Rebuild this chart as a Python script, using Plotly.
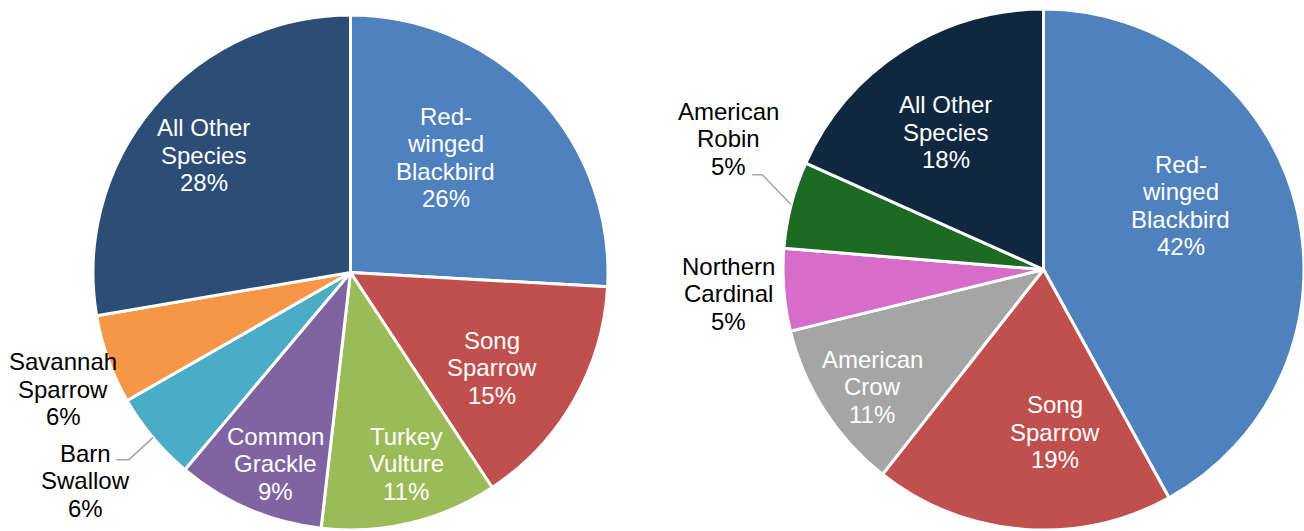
import math
import plotly.graph_objects as go

W, H = 1304, 531

# ---- data ----
left_labels = ["Red-winged Blackbird", "Song Sparrow", "Turkey Vulture", "Common Grackle",
               "Barn Swallow", "Savannah Sparrow", "All Other Species"]
left_values = [25.9, 14.85, 11.1, 9.3, 5.6, 5.6, 27.7]
left_lines = [["Red-", "winged", "Blackbird"], ["Song", "Sparrow"], ["Turkey", "Vulture"],
              ["Common", "Grackle"], ["Barn", "Swallow"], ["Savannah", "Sparrow"],
              ["All Other", "Species"]]
left_colors = ["#4F81BD", "#C0504D", "#9BBB59", "#8064A2", "#4BACC6", "#F79646", "#2C4D75"]

right_labels = ["Red-winged Blackbird", "Song Sparrow", "American Crow", "Northern Cardinal",
                "American Robin", "All Other Species"]
right_values = [42.0, 18.6, 10.6, 5.1, 5.4, 18.3]
right_lines = [["Red-", "winged", "Blackbird"], ["Song", "Sparrow"], ["American", "Crow"],
               ["Northern", "Cardinal"], ["American", "Robin"], ["All Other", "Species"]]
right_colors = ["#4F81BD", "#C0504D", "#A5A5A5", "#D66DC8", "#1C6B23", "#10283F"]

FONT = "Liberation Sans, Arial, sans-serif"
FS = 24
LINE_H = 27.5

# pie boxes in pixels (left, top, size)
left_box = (93, 15, 515)
right_box = (783, 9, 521)

# label placement styles
# inside: (angle offset from slice middle in degrees, radial fraction)
# outside: ("out", label offset px from rim point, leader elbow offset, leader end offset)
left_style = [(-7.0, 0.58), (4.0, 0.663), (-2.8, 0.774), (-2.0, 0.798),
              ("out", (-67, 43), (-24, 22), (-37, 22)),
              ("out", (-45, 30), None, None),
              (-1.5, 0.729)]
right_style = [(-10.6, 0.582), (-8.7, 0.627), (-1.6, 0.797),
               ("out", (-55, 4), None, None),
               ("out", (-63, -66), (-29, -30), (-39, -30)),
               (-2.5, 0.646)]


def dom(box):
    x0, y0, s = box
    s_eff = min(s, W - x0)
    return dict(x=[x0 / W, (x0 + s_eff) / W], y=[1 - (y0 + s) / H, 1 - y0 / H])


def geom(box):
    x0, y0, s = box
    s_eff = min(s, W - x0)
    r = min(s_eff, s) / 2
    return x0 + s_eff / 2, y0 + s / 2, r


def polar(box, ang, frac=1.0):
    cx, cy, r = geom(box)
    a = math.radians(ang)
    return cx + frac * r * math.sin(a), cy - frac * r * math.cos(a)


def px(x, y):
    return x / W, 1 - y / H


fig = go.Figure()
annotations, shapes = [], []


def add_pie(labels, values, lines, colors, styles, box):
    fig.add_trace(go.Pie(
        labels=labels, values=values, textinfo="none",
        sort=False, direction="clockwise", rotation=0,
        marker=dict(colors=colors, line=dict(color="white", width=3)),
        domain=dom(box), showlegend=False, hoverinfo="label+percent",
    ))
    tot = sum(values)
    cum = 0
    for lab, v, ln, st in zip(labels, values, lines, styles):
        mid = (cum + v / 2) / tot * 360
        cum += v
        pct = f"{int(v / tot * 100 + 0.5)}%"
        all_lines = ln + [pct]
        if st[0] == "out":
            _, off, elbow, end = st
            rx, ry = polar(box, mid)
            cx, cy = rx + off[0], ry + off[1]
            color = "black"
            if elbow is not None:
                p0 = px(rx, ry)
                p1 = px(rx + elbow[0], ry + elbow[1])
                p2 = px(rx + end[0], ry + end[1])
                shapes.append(dict(type="path", xref="paper", yref="paper",
                                   path=f"M {p0[0]} {p0[1]} L {p1[0]} {p1[1]} L {p2[0]} {p2[1]}",
                                   line=dict(color="#A6A6A6", width=1.5)))
        else:
            dang, frac = st
            cx, cy = polar(box, mid + dang, frac)
            color = "white"
        n = len(all_lines)
        for i, t in enumerate(all_lines):
            yy = cy + (i - (n - 1) / 2) * LINE_H
            ax, ay = px(cx, yy)
            annotations.append(dict(x=ax, y=ay, xref="paper", yref="paper", showarrow=False,
                                    text=t, font=dict(family=FONT, size=FS, color=color),
                                    xanchor="center", yanchor="middle"))


add_pie(left_labels, left_values, left_lines, left_colors, left_style, left_box)
add_pie(right_labels, right_values, right_lines, right_colors, right_style, right_box)

fig.update_layout(
    width=W, height=H, margin=dict(l=0, r=0, t=0, b=0),
    paper_bgcolor="white", plot_bgcolor="white",
    annotations=annotations, shapes=shapes,
    font=dict(family=FONT),
)

fig.write_html("out.html")
